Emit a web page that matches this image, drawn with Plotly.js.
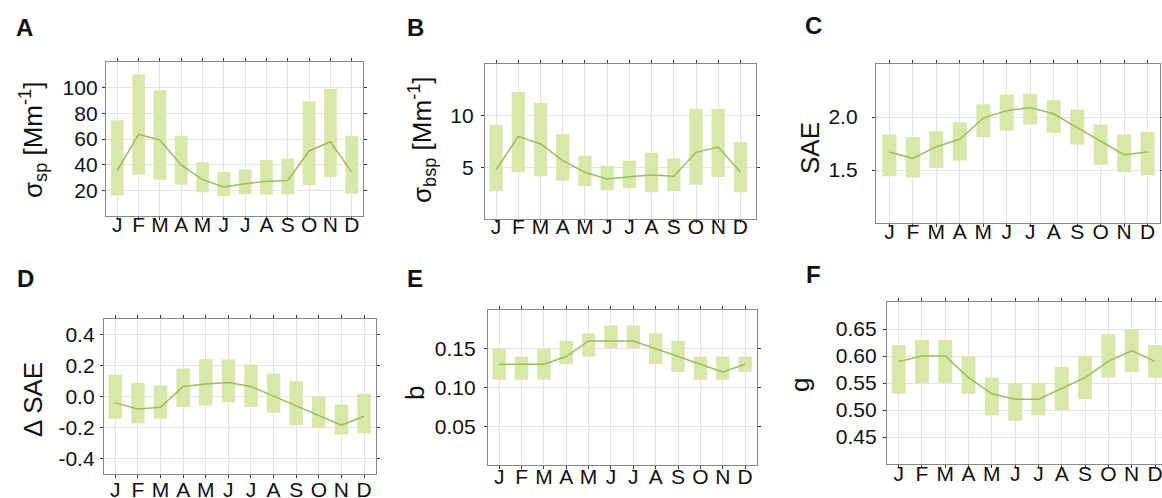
<!DOCTYPE html>
<html>
<head>
<meta charset="utf-8">
<script src="https://cdn.plot.ly/plotly-3.0.1.min.js"></script>
<style>html,body{margin:0;padding:0;background:#fff;}#chart{width:1162px;height:498px;}</style>
</head>
<body>
<div id="chart"></div>
<script>
const months = ["J","F","M","A","M","J","J","A","S","O","N","D"];
const monthIdx = [0,1,2,3,4,5,6,7,8,9,10,11];

// Panel A: sigma_sp
const spLow  = [15.9, 32.1, 28.3, 24.4, 18.5, 15.4, 16.9, 16.6, 16.9, 24.1, 30.3, 17.4];
const spHigh = [74.7, 110.3, 97.9, 62.3, 41.9, 34.4, 36.3, 43.7, 44.8, 89.4, 99.2, 62.3];
const spMed  = [35.5, 63.6, 59.2, 39.6, 28.3, 22.6, 25.2, 27.0, 27.7, 50.7, 57.9, 34.2];

// Panel B: sigma_bsp
const bspLow  = [2.68, 4.52, 4.13, 3.71, 3.16, 2.77, 3.00, 2.58, 2.68, 3.32, 4.06, 2.58];
const bspHigh = [9.10, 12.29, 11.23, 8.23, 6.13, 5.16, 5.65, 6.42, 5.87, 10.65, 10.68, 7.45];
const bspMed  = [4.77, 8.00, 7.26, 5.65, 4.52, 3.87, 4.10, 4.26, 4.13, 6.45, 6.97, 4.55];

// Panel C: SAE
const saeLow  = [1.44, 1.43, 1.52, 1.59, 1.81, 1.87, 1.93, 1.85, 1.74, 1.55, 1.48, 1.45];
const saeHigh = [1.835, 1.81, 1.865, 1.95, 2.12, 2.21, 2.22, 2.16, 2.07, 1.93, 1.835, 1.86];
const saeMed  = [1.67, 1.61, 1.72, 1.79, 1.99, 2.06, 2.09, 2.03, 1.90, 1.77, 1.645, 1.67];

// Panel D: delta SAE
const dsaeLow  = [-0.144, -0.174, -0.144, -0.067, -0.058, -0.037, -0.067, -0.105, -0.185, -0.204, -0.245, -0.237];
const dsaeHigh = [0.14, 0.088, 0.071, 0.181, 0.241, 0.239, 0.206, 0.148, 0.099, 0.0, -0.052, 0.017];
const dsaeMed  = [-0.041, -0.08, -0.069, 0.065, 0.08, 0.09, 0.065, 0.002, -0.06, -0.123, -0.185, -0.127];

// Panel E: b
const bLow  = [0.11, 0.11, 0.11, 0.13, 0.14, 0.15, 0.15, 0.13, 0.12, 0.11, 0.11, 0.12];
const bHigh = [0.15, 0.14, 0.15, 0.16, 0.17, 0.18, 0.18, 0.17, 0.16, 0.14, 0.14, 0.14];
const bMed  = [0.13, 0.13, 0.13, 0.14, 0.16, 0.16, 0.16, 0.15, 0.14, 0.13, 0.12, 0.13];

// Panel F: g
const gLow  = [0.53, 0.55, 0.55, 0.53, 0.49, 0.48, 0.49, 0.50, 0.52, 0.56, 0.57, 0.56];
const gHigh = [0.62, 0.63, 0.63, 0.60, 0.56, 0.55, 0.55, 0.58, 0.60, 0.64, 0.65, 0.62];
const gMed  = [0.59, 0.60, 0.60, 0.56, 0.53, 0.52, 0.52, 0.54, 0.56, 0.59, 0.61, 0.59];

const W = 1162, H = 498;
const BAR = '#d9e8aa';
const LINE = '#97c05a';
const FONT = 'Liberation Sans, Arial, sans-serif';

const panels = [
  {low: spLow, high: spHigh, med: spMed, box:[106,363,62,216], xr:[-0.53,11.53], yr:[0,120], tickvals:[20,40,60,80,100], ticktext:null,
   xoff:-13, yoff:0, label:'A', labelPos:[24,27], title:'σ<sub>sp</sub> [Mm<sup>-1</sup>]', titlePos:[33,140]},
  {low: bspLow, high: bspHigh, med: bspMed, box:[485,756,64,219], xr:[-0.5,11.7], yr:[0,15], tickvals:[5,10], ticktext:null,
   xoff:-14, yoff:3, label:'B', labelPos:[415,27], title:'σ<sub>bsp</sub> [Mm<sup>-1</sup>]', titlePos:[422,140]},
  {low: saeLow, high: saeHigh, med: saeMed, box:[876,1160,64,223], xr:[-0.57,11.53], yr:[1,2.5], tickvals:[1.5,2.0], ticktext:['1.5','2.0'],
   xoff:-13, yoff:10, label:'C', labelPos:[813,26], title:'SAE', titlePos:[810,148]},
  {low: dsaeLow, high: dsaeHigh, med: dsaeMed, box:[104,376,319,474], xr:[-0.5,11.53], yr:[-0.5,0.5], tickvals:[-0.4,-0.2,0,0.2,0.4], ticktext:['-0.4','-0.2','0.0','0.2','0.4'],
   xoff:-6, yoff:1, label:'D', labelPos:[25,278], title:'Δ SAE', titlePos:[33,400]},
  {low: bLow, high: bHigh, med: bMed, box:[488,757,310,465], xr:[-0.5,11.53], yr:[0,0.2], tickvals:[0.05,0.10,0.15], ticktext:['0.05','0.10','0.15'],
   xoff:-10, yoff:4, label:'E', labelPos:[415,278], title:'b', titlePos:[415,393]},
  {low: gLow, high: gHigh, med: gMed, box:[887,1162,302,464], xr:[-0.5,11.3], yr:[0.4,0.7], tickvals:[0.45,0.5,0.55,0.6,0.65], ticktext:['0.45','0.50','0.55','0.60','0.65'],
   xoff:-12, yoff:2, label:'F', labelPos:[813,274], title:'g', titlePos:[800,385]}
];

const data = [];
const layout = {
  width: W, height: H,
  margin: {l:0, r:0, t:0, b:0},
  paper_bgcolor: '#fff', plot_bgcolor: '#fff',
  showlegend: false,
  font: {family: FONT, color: '#111'},
  annotations: []
};

panels.forEach((p, i) => {
  const n = i + 1;
  const xa = 'xaxis' + (n === 1 ? '' : n);
  const ya = 'yaxis' + (n === 1 ? '' : n);
  const xr = 'x' + (n === 1 ? '' : n);
  const yr = 'y' + (n === 1 ? '' : n);
  data.push({
    type: 'bar', x: monthIdx, y: p.high.map((h, k) => h - p.low[k]), base: p.low,
    width: 0.6, marker: {color: BAR, line: {width: 0}}, xaxis: xr, yaxis: yr, hoverinfo: 'skip'
  });
  data.push({
    type: 'scatter', mode: 'lines', x: monthIdx, y: p.med,
    line: {color: LINE, width: 1.5}, xaxis: xr, yaxis: yr, hoverinfo: 'skip'
  });
  const [x0, x1, y0, y1] = p.box;
  layout[xa] = {
    domain: [x0 / W, Math.min(x1 / W, 1)], anchor: yr, range: p.xr,
    tickmode: 'array', tickvals: monthIdx, ticktext: months,
    tickfont: {size: 21, family: FONT, color: '#111'},
    ticks: 'outside', ticklen: 3, tickcolor: '#333', mirror: 'ticks',
    ticklabelstandoff: p.xoff, ticklabeloverflow: 'allow',
    showline: true, linecolor: '#888', linewidth: 1.2,
    showgrid: true, gridcolor: '#e3e3e3', gridwidth: 1, zeroline: false, fixedrange: true
  };
  const yaxis = {
    domain: [1 - y1 / H, 1 - y0 / H], anchor: xr, range: p.yr,
    tickmode: 'array', tickvals: p.tickvals,
    tickfont: {size: 21, family: FONT, color: '#111'},
    ticks: 'outside', ticklen: 3, tickcolor: '#333', mirror: 'ticks',
    ticklabelstandoff: p.yoff,
    showline: true, linecolor: '#888', linewidth: 1.2,
    showgrid: true, gridcolor: '#e3e3e3', gridwidth: 1, zeroline: false, fixedrange: true
  };
  if (p.ticktext) yaxis.ticktext = p.ticktext;
  layout[ya] = yaxis;
  layout.annotations.push({
    xref: 'paper', yref: 'paper', x: p.labelPos[0] / W, y: 1 - p.labelPos[1] / H,
    xanchor: 'center', yanchor: 'middle', showarrow: false,
    text: '<b>' + p.label + '</b>', font: {size: 24, family: FONT, color: '#111'}
  });
  layout.annotations.push({
    xref: 'paper', yref: 'paper', x: p.titlePos[0] / W, y: 1 - p.titlePos[1] / H,
    xanchor: 'center', yanchor: 'middle', showarrow: false, textangle: -90,
    text: p.title, font: {size: 26, family: FONT, color: '#111'}
  });
});

Plotly.newPlot('chart', data, layout, {staticPlot: true, displayModeBar: false});
</script>
</body>
</html>
